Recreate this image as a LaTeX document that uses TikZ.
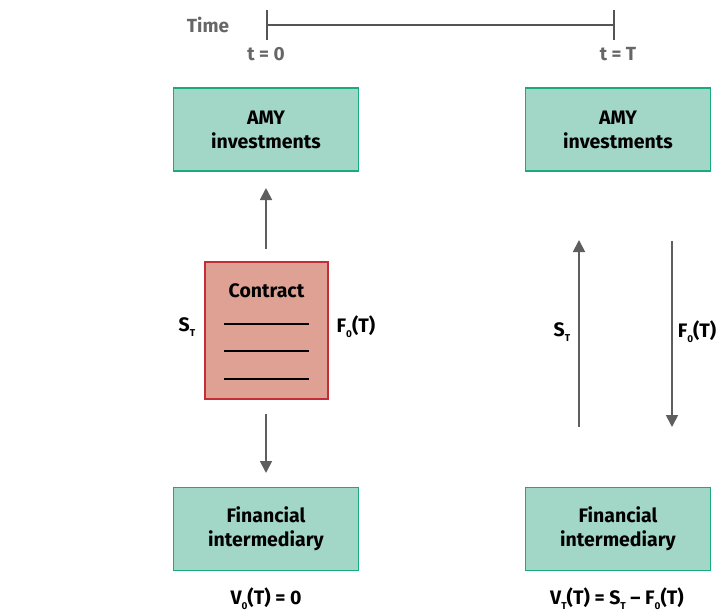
\documentclass[tikz,border=0pt]{standalone}
\usepackage{fontspec}
\setmainfont{Fira Sans}
\usetikzlibrary{arrows.meta}
\definecolor{boxfill}{HTML}{A2D6C6}
\definecolor{boxdraw}{HTML}{1BAA80}
\definecolor{cfill}{HTML}{DFA194}
\definecolor{cdraw}{HTML}{C22D38}
\definecolor{arr}{HTML}{5E5E5E}
\definecolor{tl}{HTML}{555555}
\definecolor{tgray}{HTML}{666666}
\newcommand{\lowsub}[1]{\raisebox{-0.45ex}{\fontsize{10}{10}\selectfont #1}}
\tikzset{
  gbox/.style={draw=boxdraw, fill=boxfill, line width=1.6pt, minimum width=185pt, minimum height=83pt, align=center, font=\fontsize{19.5}{24}\selectfont\bfseries, inner sep=0pt},
  cbox/.style={draw=cdraw, fill=cfill, line width=1.6pt, minimum width=123pt, minimum height=137pt, inner sep=0pt},
  lbl/.style={font=\fontsize{19.5}{22}\selectfont\bfseries, inner sep=0pt},
  glbl/.style={font=\fontsize{19}{22}\selectfont\bfseries, text=tgray, inner sep=0pt},
  flow/.style={draw=arr, line width=1.8pt, -{Triangle[width=12pt,length=12pt]}},
  tline/.style={draw=tl, line width=1.8pt},
  cline/.style={line width=1.4pt},
}
\begin{document}
\begin{tikzpicture}[x=1pt,y=-1pt]
\useasboundingbox (0,0) rectangle (718,613);
% timeline
\node[glbl] (time) at (208,25) {Time};
\coordinate (t0) at (267,25);
\coordinate (t1) at (614,25);
\draw[tline] (t0) -- (t1);
\draw[tline] ([yshift=-15pt]t0) -- ([yshift=15pt]t0);
\draw[tline] ([yshift=-15pt]t1) -- ([yshift=15pt]t1);
\node[glbl] (l0) at (266,54) {t = 0};
\node[glbl] (l1) at (618,54) {t = T};
% boxes
\node[gbox] (amy1) at (266,129.5) {AMY\\investments};
\node[gbox] (amy2) at (618,129.5) {AMY\\investments};
\node[gbox] (fi1) at (266,529) {Financial\\intermediary};
\node[gbox] (fi2) at (618,529) {Financial\\intermediary};
% contract
\node[cbox] (con) at (266.5,330.5) {};
\node[lbl] (ctitle) at (266.5,291) {Contract};
\draw[cline] (224,324) -- (309,324);
\draw[cline] (224,351) -- (309,351);
\draw[cline] (224,379) -- (309,379);
\node[lbl] (s1) at (187,327) {S\lowsub{T}};
\node[lbl] (f1) at (356,327) {F\lowsub{0}(T)};
% arrows left
\coordinate (ua0) at (266,249);
\coordinate (ua1) at (266,188);
\draw[flow] (ua0) -- (ua1);
\coordinate (da0) at (266,414);
\coordinate (da1) at (266,473);
\draw[flow] (da0) -- (da1);
% arrows right
\coordinate (ru0) at (579,427);
\coordinate (ru1) at (579,240);
\draw[flow] (ru0) -- (ru1);
\coordinate (rd0) at (672,241);
\coordinate (rd1) at (672,427);
\draw[flow] (rd0) -- (rd1);
\node[lbl] (s2) at (562,332) {S\lowsub{T}};
\node[lbl, anchor=east] (f2) at (716.5,332) {F\lowsub{0}(T)};
% values
\node[lbl] (v0) at (266,599) {V\lowsub{0}(T) = 0};
\node[lbl] (vT) at (617,599) {V\lowsub{T}(T) = S\lowsub{T} – F\lowsub{0}(T)};
\end{tikzpicture}
\end{document}
